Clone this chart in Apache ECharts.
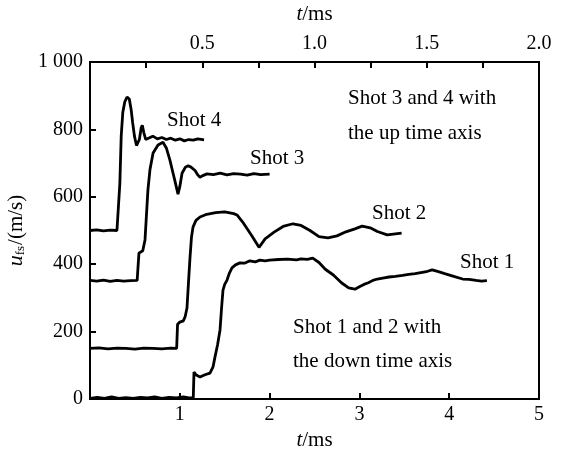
<!DOCTYPE html>
<html>
<head>
<meta charset="utf-8">
<script src="https://cdn.jsdelivr.net/npm/echarts@6/dist/echarts.min.js"></script>
<style>html,body{margin:0;padding:0;background:#fff;}#c{width:563px;height:455px;}</style>
</head>
<body>
<div id="c"></div>
<script>
// ---- data (t in ms, u_fs in m/s) ----
// Shot 1 and 2: bottom (down) time axis 0-5 ms
const shot1T = [0,0.08,0.16,0.24,0.32,0.4,0.48,0.56,0.64,0.72,0.8,0.88,0.96,1.04,1.1,1.15,1.158,1.18,1.2,1.225,1.28,1.336,1.37,1.392,1.42,1.448,1.465,1.481,1.5,1.526,1.55,1.581,1.62,1.67,1.72,1.78,1.84,1.893,1.95,2.0,2.1,2.2,2.3,2.35,2.42,2.48,2.55,2.62,2.71,2.8,2.88,2.95,3.0,3.05,3.1,3.15,3.2,3.26,3.33,3.4,3.48,3.55,3.62,3.7,3.76,3.81,3.88,3.95,4.05,4.15,4.22,4.3,4.36,4.42];
const shot1V = [2,5,2,6,2,4,2,5,3,6,2,5,3,6,3,4,80,72,68,65,72,77,95,125,160,205,270,323,340,353,372,389,398,404,403,410,407,412,410,412,414,415,413,416,414,418,405,385,368,345,330,326,333,340,345,352,356,359,362,364,367,370,372,376,379,383,378,372,364,356,355,352,350,351];
const shot2T = [0,0.1,0.2,0.3,0.4,0.5,0.6,0.7,0.8,0.9,0.965,0.975,1.0,1.04,1.06,1.08,1.1,1.114,1.13,1.147,1.18,1.225,1.3,1.4,1.5,1.6,1.637,1.7,1.8,1.882,1.95,2.05,2.15,2.26,2.35,2.45,2.55,2.65,2.75,2.85,2.95,3.03,3.12,3.2,3.31,3.4,3.47];
const shot2V = [150,152,149,151,150,148,151,150,149,151,150,222,228,232,245,270,360,421,480,510,530,540,548,553,555,550,546,525,485,450,475,495,512,520,515,500,482,478,484,496,505,513,508,497,487,490,492];
// Shot 3 and 4: top (up) time axis 0-2.0 ms
const shot3T = [0,0.03,0.06,0.09,0.12,0.15,0.18,0.21,0.216,0.218,0.235,0.245,0.258,0.267,0.281,0.303,0.325,0.34,0.356,0.37,0.379,0.392,0.4,0.41,0.425,0.437,0.45,0.468,0.48,0.49,0.5,0.521,0.55,0.58,0.61,0.64,0.67,0.7,0.73,0.76,0.8];
const shot3V = [352,350,353,349,352,350,351,352,352,433,440,472,620,680,730,754,762,745,709,670,645,608,630,670,688,692,688,678,665,658,662,668,666,670,665,669,667,664,669,666,667];
const shot4T = [0,0.03,0.06,0.09,0.12,0.127,0.133,0.139,0.146,0.155,0.165,0.175,0.183,0.19,0.198,0.207,0.213,0.22,0.228,0.233,0.24,0.248,0.256,0.265,0.28,0.3,0.32,0.34,0.36,0.38,0.4,0.42,0.44,0.46,0.48,0.508];
const shot4V = [500,502,499,501,500,500,640,780,850,882,896,890,860,820,780,752,748,770,805,812,790,770,765,775,780,772,776,770,774,768,772,766,770,768,772,769];
const bottomTicks = [0,1,2,3,4,5];
const topTickLabels = ['0.5','1.0','1.5','2.0'];
const yTickLabels = ['0','200','400','600','800','1 000'];

const zip = (a, b) => a.map((t, i) => [t, b[i]]);
const FONT = '"Liberation Serif", "DejaVu Serif", serif';

const chart = echarts.init(document.getElementById('c'));
const tick = {show: true, inside: true, length: 6, lineStyle: {color: '#000', width: 2}};
const axLine = {show: true, onZero: false, lineStyle: {color: '#000', width: 2}};
const lbl = {color: '#000', fontFamily: FONT, fontSize: 20};
const lineS = (name, data, xi) => ({
  name, type: 'line', xAxisIndex: xi, data, showSymbol: false, symbol: 'none',
  lineStyle: {color: '#000', width: 2.8}, z: 5, animation: false
});
const nameStyle = {color: '#000', fontFamily: FONT, fontSize: 21, rich: {i: {fontStyle: 'italic', fontFamily: FONT, fontSize: 21, color: '#000'}}};

chart.setOption({
  animation: false,
  grid: {left: 90, right: 24, top: 62, bottom: 56, containLabel: false, outerBoundsMode: 'none',
         show: true, borderColor: '#000', borderWidth: 2, backgroundColor: 'transparent'},
  xAxis: [
    {type: 'value', position: 'bottom', min: 0, max: 5, interval: 1,
     axisLine: axLine, axisTick: tick, splitLine: {show: false},
     axisLabel: Object.assign({}, lbl, {margin: 6, formatter: v => (v === 0 ? '' : String(bottomTicks[bottomTicks.indexOf(v)]))}),
     name: '{i|t}/ms', nameLocation: 'middle', nameGap: 30, nameTextStyle: nameStyle},
    {type: 'value', position: 'top', min: 0, max: 2, interval: 0.25,
     axisLine: axLine, axisTick: tick, splitLine: {show: false},
     axisLabel: Object.assign({}, lbl, {margin: 8, formatter: v => {
       const k = Math.round(v / 0.5);
       return (Math.abs(v - k * 0.5) < 1e-6 && k > 0) ? topTickLabels[k - 1] : '';
     }}),
     name: '{i|t}/ms', nameLocation: 'middle', nameGap: 37, nameTextStyle: nameStyle}
  ],
  yAxis: [{type: 'value', min: 0, max: 1000, interval: 200,
    axisLine: axLine, axisTick: tick, splitLine: {show: false},
    axisLabel: Object.assign({}, lbl, {margin: 7, formatter: v => yTickLabels[Math.round(v / 200)]}),
    name: '{u|u}{s|fs}{n|/(m/s)}', nameLocation: 'middle', nameGap: 58,
    nameTextStyle: {color: '#000', fontFamily: FONT, fontSize: 21, rich: {
      u: {fontStyle: 'italic', fontFamily: FONT, fontSize: 22, color: '#000'},
      s: {fontFamily: FONT, fontSize: 13, color: '#000', verticalAlign: 'bottom', padding: [8, 1, 0, 0]},
      n: {fontFamily: FONT, fontSize: 21, color: '#000'}
    }}}],
  series: [
    lineS('Shot 1', zip(shot1T, shot1V), 0),
    lineS('Shot 2', zip(shot2T, shot2V), 0),
    lineS('Shot 3', zip(shot3T, shot3V), 1),
    lineS('Shot 4', zip(shot4T, shot4V), 1)
  ],
  graphic: [
    ['Shot 4', 167, 120], ['Shot 3', 250, 158], ['Shot 2', 372, 213], ['Shot 1', 460, 262],
    ['Shot 3 and 4 with', 348, 98], ['the up time axis', 348, 133],
    ['Shot 1 and 2 with', 293, 327], ['the down time axis', 293, 361]
  ].map(([t, x, y]) => ({type: 'text', x, y, z: 10,
    style: {text: t, fill: '#000', font: '21px ' + FONT, textVerticalAlign: 'middle', textAlign: 'left'}}))
});
</script>
</body>
</html>
